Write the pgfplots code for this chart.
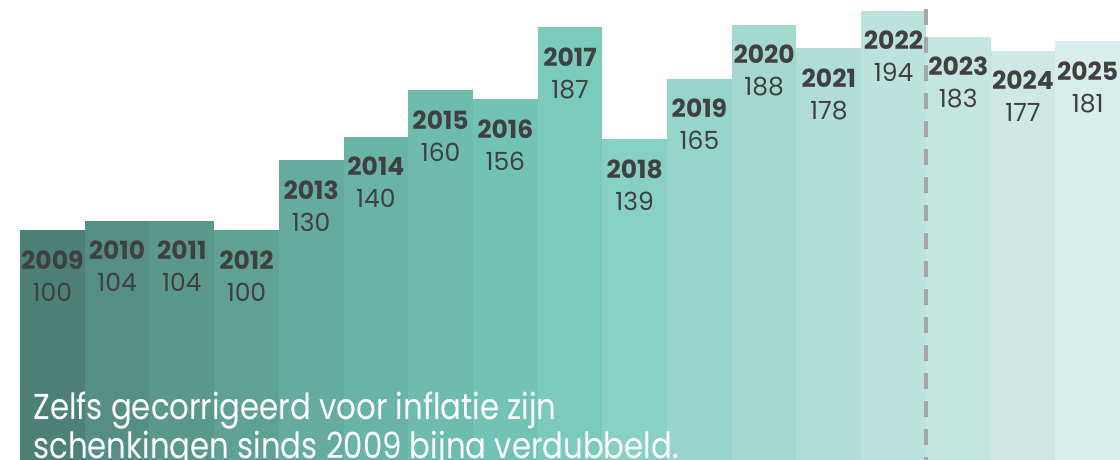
\documentclass[border=0pt]{standalone}
\usepackage{fontspec}
\setmainfont{Poppins}
\newfontfamily\notefont{Poppins}[FakeStretch=0.855]
\usepackage{pgfplots}
\pgfplotsset{compat=1.18}

\definecolor{c09}{HTML}{4E8176}
\definecolor{c10}{HTML}{558E83}
\definecolor{c11}{HTML}{5A988A}
\definecolor{c12}{HTML}{5FA293}
\definecolor{c13}{HTML}{65AC9E}
\definecolor{c14}{HTML}{69B4A6}
\definecolor{c15}{HTML}{6EBCAE}
\definecolor{c16}{HTML}{72C3B4}
\definecolor{c17}{HTML}{7BCBBC}
\definecolor{c18}{HTML}{88D0C3}
\definecolor{c19}{HTML}{97D5CA}
\definecolor{c20}{HTML}{A5D9D0}
\definecolor{c21}{HTML}{B0DDD5}
\definecolor{c22}{HTML}{BBE2DB}
\definecolor{c23}{HTML}{C5E5DF}
\definecolor{c24}{HTML}{CEE8E4}
\definecolor{c25}{HTML}{D8EEEA}
\definecolor{labelgray}{HTML}{404040}
\definecolor{dashgray}{HTML}{A6A6A6}

% x position, index value, year, colour
\newcommand\yearbar[4]{%
  \addplot[ybar, bar width=1, bar shift=0pt, draw=none, fill=#4,
    nodes near coords={\textbf{#3}\\#2}] coordinates {(#1,#2)};}

\begin{document}
\begin{tikzpicture}
\begin{axis}[
    scale only axis,
    width=560pt, height=230pt,
    xmin=-0.809, xmax=16.5,
    ymin=1.3, ymax=198.7,
    hide axis,
    every node near coord/.append style={
        anchor=north, align=center, inner sep=0pt, yshift=-10pt,
        text=labelgray, font=\fontsize{12.5}{16}\selectfont},
]
\yearbar{0}{100}{2009}{c09}
\yearbar{1}{104}{2010}{c10}
\yearbar{2}{104}{2011}{c11}
\yearbar{3}{100}{2012}{c12}
\yearbar{4}{130}{2013}{c13}
\yearbar{5}{140}{2014}{c14}
\yearbar{6}{160}{2015}{c15}
\yearbar{7}{156}{2016}{c16}
\yearbar{8}{187}{2017}{c17}
\yearbar{9}{139}{2018}{c18}
\yearbar{10}{165}{2019}{c19}
\yearbar{11}{188}{2020}{c20}
\yearbar{12}{178}{2021}{c21}
\yearbar{13}{194}{2022}{c22}
\yearbar{14}{183}{2023}{c23}
\yearbar{15}{177}{2024}{c24}
\yearbar{16}{181}{2025}{c25}

\draw[dashgray, line width=2pt, dash pattern=on 8pt off 6pt]
    (axis cs:13.5,194.9) -- (axis cs:13.5,1.3);

\node[anchor=north west, inner sep=0pt, align=left, text=white,
      font=\notefont\fontsize{18}{16.5}\selectfont]
    at (rel axis cs:0.0295,0.148)
    {Zelfs gecorrigeerd voor inflatie zijn\\schenkingen sinds 2009 bijna verdubbeld.};
\end{axis}
\pgfresetboundingbox
\path (current axis.south west) rectangle (current axis.north east);
\end{tikzpicture}
\end{document}
